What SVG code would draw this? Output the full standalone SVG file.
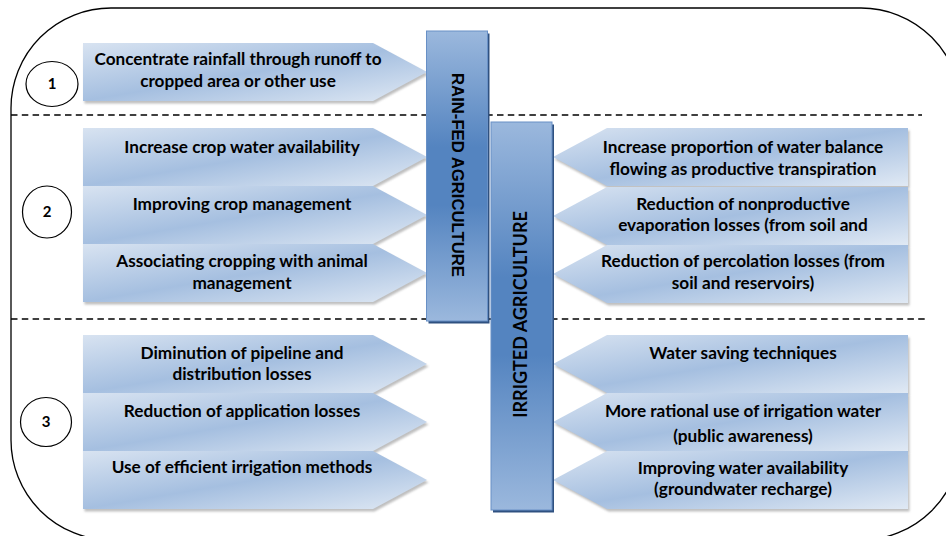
<svg xmlns="http://www.w3.org/2000/svg" xmlns:xlink="http://www.w3.org/1999/xlink" width="946" height="536" viewBox="0 0 946 536">
  <style>
    .frame { fill: none; stroke: #000; stroke-width: 1.3; }
    .sep { fill: none; stroke: #000; stroke-width: 1.4; stroke-dasharray: 6.5 4.3; }
    .num { fill: #fff; stroke: #000; stroke-width: 1.2; }
    .numtxt { font-family: Lato, "Open Sans", sans-serif; font-weight: bold; font-size: 15px; fill: #000; text-anchor: middle; }
    .arrow { fill: url(#arrowFill); }
    .shadow { fill: #808080; opacity: 0.5; filter: url(#soft); }
    .t { font-family: Lato, "Open Sans", sans-serif; font-weight: bold; font-size: 17.2px; fill: #000; text-anchor: middle; }
    .bar { fill: url(#barFill); stroke: #6890c6; stroke-width: 1; }
    .barShadow { fill: #2f5180; }
    .rf { font-family: "Liberation Sans", Arial, sans-serif; font-weight: bold; font-size: 16.7px; fill: #000; text-anchor: middle; }
    .ir { font-family: Lato, "Open Sans", sans-serif; font-weight: bold; font-size: 18px; fill: #000; text-anchor: middle; }
  </style>
  <defs>
    <linearGradient id="arrowFill" x1="0" y1="0" x2="1" y2="1">
      <stop offset="0" stop-color="#d8e3f1"/>
      <stop offset="0.5" stop-color="#a5bfe0"/>
      <stop offset="1" stop-color="#e0e9f4"/>
    </linearGradient>
    <linearGradient id="barFill" x1="0" y1="0" x2="0" y2="1">
      <stop offset="0" stop-color="#9bb8dd"/>
      <stop offset="0.4" stop-color="#5484c0"/>
      <stop offset="0.6" stop-color="#5484c0"/>
      <stop offset="1" stop-color="#9bb8dd"/>
    </linearGradient>
    <filter id="soft" x="-5%" y="-20%" width="110%" height="140%">
      <feGaussianBlur stdDeviation="0.8"/>
    </filter>
    <!-- arrow pointing right (toward the rain-fed bar), 344 x 58 -->
    <polygon id="toRight" points="0,0 290,0 344,29 290,58 0,58"/>
    <!-- arrow pointing left (toward the irrigated bar), 355 x 58 -->
    <polygon id="toLeft" points="0,29 54,0 355,0 355,58 54,58"/>
  </defs>

  <!-- outer frame -->
  <rect class="frame" x="11" y="8" width="950" height="532" rx="100" ry="100"/>

  <!-- section separators -->
  <g id="connectors">
    <line class="sep" x1="11" y1="115" x2="922" y2="115"/>
    <line class="sep" x1="11" y1="319" x2="928" y2="319"/>
  </g>

  <!-- section numbers -->
  <g id="num1">
    <ellipse class="num" cx="52" cy="84" rx="26" ry="22.5"/>
    <text class="numtxt" x="52" y="89">1</text>
  </g>
  <g id="num2">
    <ellipse class="num" cx="47" cy="212" rx="24.5" ry="26"/>
    <text class="numtxt" x="47" y="217">2</text>
  </g>
  <g id="num3">
    <ellipse class="num" cx="46" cy="422" rx="25.5" ry="24.5"/>
    <text class="numtxt" x="46" y="427">3</text>
  </g>

  <!-- section 1 -->
  <g id="a1">
    <use xlink:href="#toRight" class="shadow" transform="translate(84.5,45.5)"/>
    <use xlink:href="#toRight" class="arrow" transform="translate(83,43)"/>
    <text class="t" x="238" y="65">Concentrate rainfall through runoff to</text>
    <text class="t" x="238" y="87">cropped area or other use</text>
  </g>

  <!-- section 2, rain-fed side -->
  <g id="a2">
    <use xlink:href="#toRight" class="shadow" transform="translate(84.5,130.5)"/>
    <use xlink:href="#toRight" class="arrow" transform="translate(83,128)"/>
    <text class="t" x="242" y="153">Increase crop water availability</text>
  </g>
  <g id="a3">
    <use xlink:href="#toRight" class="shadow" transform="translate(84.5,188.5)"/>
    <use xlink:href="#toRight" class="arrow" transform="translate(83,186)"/>
    <text class="t" x="242" y="210">Improving crop management</text>
  </g>
  <g id="a4">
    <use xlink:href="#toRight" class="shadow" transform="translate(84.5,246.5)"/>
    <use xlink:href="#toRight" class="arrow" transform="translate(83,244)"/>
    <text class="t" x="242" y="267">Associating cropping with animal</text>
    <text class="t" x="242" y="289">management</text>
  </g>

  <!-- section 3, left side -->
  <g id="a5">
    <use xlink:href="#toRight" class="shadow" transform="translate(84.5,337.5)"/>
    <use xlink:href="#toRight" class="arrow" transform="translate(83,335)"/>
    <text class="t" x="242" y="359">Diminution of pipeline and</text>
    <text class="t" x="242" y="379.5">distribution losses</text>
  </g>
  <g id="a6">
    <use xlink:href="#toRight" class="shadow" transform="translate(84.5,395.5)"/>
    <use xlink:href="#toRight" class="arrow" transform="translate(83,393)"/>
    <text class="t" x="242" y="416.5">Reduction of application losses</text>
  </g>
  <g id="a7">
    <use xlink:href="#toRight" class="shadow" transform="translate(84.5,453.5)"/>
    <use xlink:href="#toRight" class="arrow" transform="translate(83,451)"/>
    <text class="t" x="242" y="473">Use of efficient irrigation methods</text>
  </g>

  <!-- section 2, irrigated side -->
  <g id="b1">
    <use xlink:href="#toLeft" class="shadow" transform="translate(554.5,130.5)"/>
    <use xlink:href="#toLeft" class="arrow" transform="translate(553,128)"/>
    <text class="t" x="743" y="153">Increase proportion of water balance</text>
    <text class="t" x="743" y="174.5">flowing as productive transpiration</text>
  </g>
  <g id="b2">
    <use xlink:href="#toLeft" class="shadow" transform="translate(554.5,189.5)"/>
    <use xlink:href="#toLeft" class="arrow" transform="translate(553,187)"/>
    <text class="t" x="743" y="210">Reduction of nonproductive</text>
    <text class="t" x="743" y="231">evaporation losses (from soil and</text>
  </g>
  <g id="b3">
    <use xlink:href="#toLeft" class="shadow" transform="translate(554.5,247.5)"/>
    <use xlink:href="#toLeft" class="arrow" transform="translate(553,245)"/>
    <text class="t" x="743" y="267">Reduction of percolation losses (from</text>
    <text class="t" x="743" y="289">soil and reservoirs)</text>
  </g>

  <!-- section 3, irrigated side -->
  <g id="b4">
    <use xlink:href="#toLeft" class="shadow" transform="translate(554.5,337.5)"/>
    <use xlink:href="#toLeft" class="arrow" transform="translate(553,335)"/>
    <text class="t" x="743" y="359">Water saving techniques</text>
  </g>
  <g id="b5">
    <use xlink:href="#toLeft" class="shadow" transform="translate(554.5,395.5)"/>
    <use xlink:href="#toLeft" class="arrow" transform="translate(553,393)"/>
    <text class="t" x="743" y="417">More rational use of irrigation water</text>
    <text class="t" x="743" y="441.5">(public awareness)</text>
  </g>
  <g id="b6">
    <use xlink:href="#toLeft" class="shadow" transform="translate(554.5,453.5)"/>
    <use xlink:href="#toLeft" class="arrow" transform="translate(553,451)"/>
    <text class="t" x="743" y="474">Improving water availability</text>
    <text class="t" x="743" y="495">(groundwater recharge)</text>
  </g>

  <!-- vertical category bars -->
  <g id="rainfed">
    <rect class="barShadow" x="428.5" y="33.5" width="61" height="290"/>
    <rect class="bar" x="426.5" y="31" width="61" height="290"/>
    <text class="rf" transform="translate(451.5,175) rotate(90)">RAIN-FED AGRICULTURE</text>
  </g>
  <g id="irrigated">
    <rect class="barShadow" x="493" y="124.5" width="61" height="388"/>
    <rect class="bar" x="491" y="122" width="61" height="388"/>
    <text class="ir" transform="translate(527,314.5) rotate(-90)">IRRIGTED AGRICULTURE</text>
  </g>
</svg>
